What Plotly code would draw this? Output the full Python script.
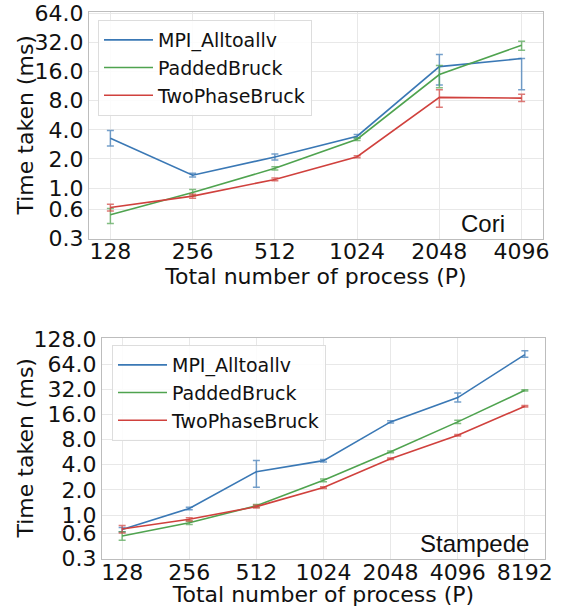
import math
import plotly.graph_objects as go

# Cori
procs_cori = [128, 256, 512, 1024, 2048, 4096]
cori_mpi = [3.28, 1.36, 2.1, 3.44, 18.0, 21.8]
cori_mpi_up = [0.66, 0.06, 0.15, 0.15, 6.0, 0.0]
cori_mpi_dn = [0.55, 0.06, 0.15, 0.15, 6.4, 11.4]
cori_padded = [0.53, 0.90, 1.6, 3.2, 14.9, 30.0]
cori_padded_up = [0.085, 0.07, 0.06, 0.1, 3.6, 3.0]
cori_padded_dn = [0.10, 0.07, 0.06, 0.1, 4.0, 3.4]
cori_twophase = [0.63, 0.826, 1.23, 2.11, 8.65, 8.5]
cori_twophase_up = [0.05, 0.04, 0.04, 0.05, 1.75, 0.8]
cori_twophase_dn = [0.05, 0.04, 0.04, 0.05, 1.8, 0.65]

# Stampede
procs_stampede = [128, 256, 512, 1024, 2048, 4096, 8192]
stam_mpi = [0.67, 1.2, 3.3, 4.47, 13.0, 25.4, 83.0]
stam_mpi_up = [0.04, 0.04, 1.2, 0.15, 0.4, 3.4, 9.0]
stam_mpi_dn = [0.04, 0.04, 1.15, 0.15, 0.4, 2.9, 6.0]
stam_padded = [0.56, 0.81, 1.29, 2.6, 5.7, 13.0, 31.0]
stam_padded_up = [0.07, 0.04, 0.05, 0.1, 0.15, 0.6, 0.5]
stam_padded_dn = [0.06, 0.04, 0.05, 0.1, 0.15, 0.6, 0.5]
stam_twophase = [0.68, 0.89, 1.26, 2.13, 4.7, 9.0, 20.0]
stam_twophase_up = [0.07, 0.04, 0.05, 0.05, 0.1, 0.2, 0.4]
stam_twophase_dn = [0.07, 0.04, 0.05, 0.05, 0.1, 0.2, 0.4]

names = ["MPI_Alltoallv", "PaddedBruck", "TwoPhaseBruck"]
colors = ["#3a78b5", "#4fa34f", "#d0413d"]
err_colors = ["rgba(58,120,181,0.7)", "rgba(79,163,79,0.7)", "rgba(208,65,61,0.7)"]

cori_ticks = [0.3, 0.6, 1, 2, 4, 8, 16, 32, 64]
stam_ticks = [0.3, 0.6, 1, 2, 4, 8, 16, 32, 64, 128]

W, H = 561, 607
FONT = "DejaVu Sans"

fig = go.Figure()

panels = [
    (procs_cori, [(cori_mpi, cori_mpi_up, cori_mpi_dn),
                  (cori_padded, cori_padded_up, cori_padded_dn),
                  (cori_twophase, cori_twophase_up, cori_twophase_dn)], "x", "y", "legend"),
    (procs_stampede, [(stam_mpi, stam_mpi_up, stam_mpi_dn),
                      (stam_padded, stam_padded_up, stam_padded_dn),
                      (stam_twophase, stam_twophase_up, stam_twophase_dn)], "x2", "y2", "legend2"),
]

for procs, series, xa, ya, lg in panels:
    for i, (vals, up, dn) in enumerate(series):
        fig.add_trace(go.Scatter(
            x=procs, y=vals, mode="lines", name=names[i],
            line=dict(color=colors[i], width=1.6),
            error_y=dict(type="data", symmetric=False, array=up, arrayminus=dn,
                         color=err_colors[i], thickness=1.5, width=3.5),
            xaxis=xa, yaxis=ya, legend=lg))


def xdom(a, b):
    return [a / W, b / W]


def ydom(a, b):
    return [1 - b / H, 1 - a / H]


def xrange_for(procs, pad):
    lo = math.log10(procs[0]) - pad * math.log10(2)
    hi = math.log10(procs[-1]) + pad * math.log10(2)
    return [lo, hi]


axis_common = dict(showline=True, mirror=True, linecolor="#bdbdbd", linewidth=1,
                   showgrid=True, gridcolor="#e8e8e8", gridwidth=1, zeroline=False,
                   automargin=False, ticklabeloverflow="allow",
                   tickfont=dict(family=FONT, size=22, color="#111"), ticks="")
title_font = dict(size=22, family=FONT, color="#111")

fig.update_layout(
    width=W, height=H, margin=dict(l=0, r=0, t=0, b=0),
    paper_bgcolor="white", plot_bgcolor="white",
    font=dict(family=FONT, color="#111"),
    xaxis=dict(domain=xdom(89, 543), anchor="y", type="log",
               range=xrange_for(procs_cori, 0.26), tickvals=procs_cori,
               ticktext=[str(p) for p in procs_cori], ticklabelstandoff=-7,
               title=dict(text="Total number of process (P)", font=title_font, standoff=0),
               **axis_common),
    yaxis=dict(domain=ydom(12, 239), anchor="x", type="log",
               range=[math.log10(0.298), math.log10(66)], tickvals=cori_ticks,
               ticktext=["%.1f" % t for t in cori_ticks],
               **axis_common),
    xaxis2=dict(domain=xdom(102, 545), anchor="y2", type="log",
                range=xrange_for(procs_stampede, 0.30), tickvals=procs_stampede,
                ticktext=[str(p) for p in procs_stampede], ticklabelstandoff=-6,
                title=dict(text="Total number of process (P)", font=title_font, standoff=0),
                **axis_common),
    yaxis2=dict(domain=ydom(338, 559), anchor="x2", type="log",
                range=[math.log10(0.298), math.log10(131)], tickvals=stam_ticks,
                ticktext=["%.1f" % t for t in stam_ticks],
                **axis_common),
    legend=dict(x=98 / W, y=1 - 20 / H, xanchor="left", yanchor="top",
                itemwidth=49,
                bgcolor="rgba(255,255,255,0.85)", bordercolor="#dddddd", borderwidth=1,
                font=dict(family=FONT, size=19, color="#111")),
    legend2=dict(x=112 / W, y=1 - 345 / H, xanchor="left", yanchor="top",
                 itemwidth=49,
                 bgcolor="rgba(255,255,255,0.85)", bordercolor="#dddddd", borderwidth=1,
                 font=dict(family=FONT, size=19, color="#111")),
    annotations=[
        dict(text="Time taken (ms)", xref="paper", yref="y domain",
             x=25 / W, y=0.5, textangle=-90, showarrow=False,
             xanchor="center", yanchor="middle", font=title_font),
        dict(text="Time taken (ms)", xref="paper", yref="y2 domain",
             x=25 / W, y=0.5, textangle=-90, showarrow=False,
             xanchor="center", yanchor="middle", font=title_font),
        dict(text="Cori", xref="x domain", yref="y domain", x=0.92, y=0.07,
             xanchor="right", yanchor="middle", showarrow=False,
             font=dict(family="Liberation Sans", size=24, color="#111")),
        dict(text="Stampede", xref="x2 domain", yref="y2 domain", x=0.968, y=0.072,
             xanchor="right", yanchor="middle", showarrow=False,
             font=dict(family="Liberation Sans", size=24, color="#111")),
    ],
)

# drop the default body margin so the figure fills the window exactly
fig.write_html("out.html", config={"displayModeBar": False},
               post_script="document.body.style.margin = '0px';")
